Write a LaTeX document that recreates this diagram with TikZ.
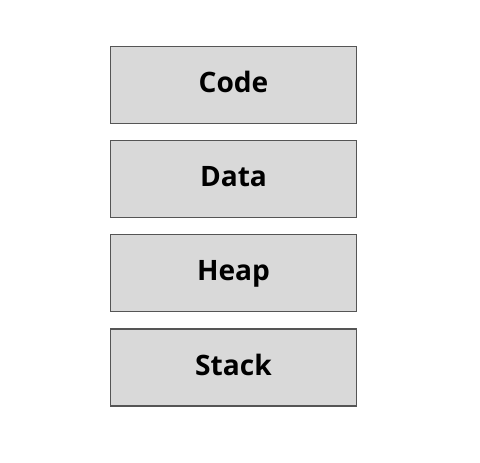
\documentclass[tikz,border=0pt]{standalone}
\usepackage{fontspec}
\setmainfont{Open Sans}
\usetikzlibrary{positioning}
\definecolor{segfill}{HTML}{D9D9D9}
\definecolor{segline}{HTML}{555555}
\begin{document}
\begin{tikzpicture}[x=0.02cm,y=-0.02cm,
    segbox/.style={draw=segline,fill=segfill,line width=0.8pt,minimum width=4.92cm,minimum height=1.54cm,inner sep=0pt,text depth=0.12cm,font=\fontsize{16}{18}\selectfont\bfseries}]
     % page
      \useasboundingbox (0,0) rectangle (480,463);

      % memory segments
      \node[segbox] (code) at (233.5,85) {Code};
      \node[segbox, below=0.315cm of code] (data) {Data};
      \node[segbox, below=0.315cm of data] (heap) {Heap};
      \node[segbox, below=0.315cm of heap] (stack) {Stack};
    \end{tikzpicture}
\end{document}
